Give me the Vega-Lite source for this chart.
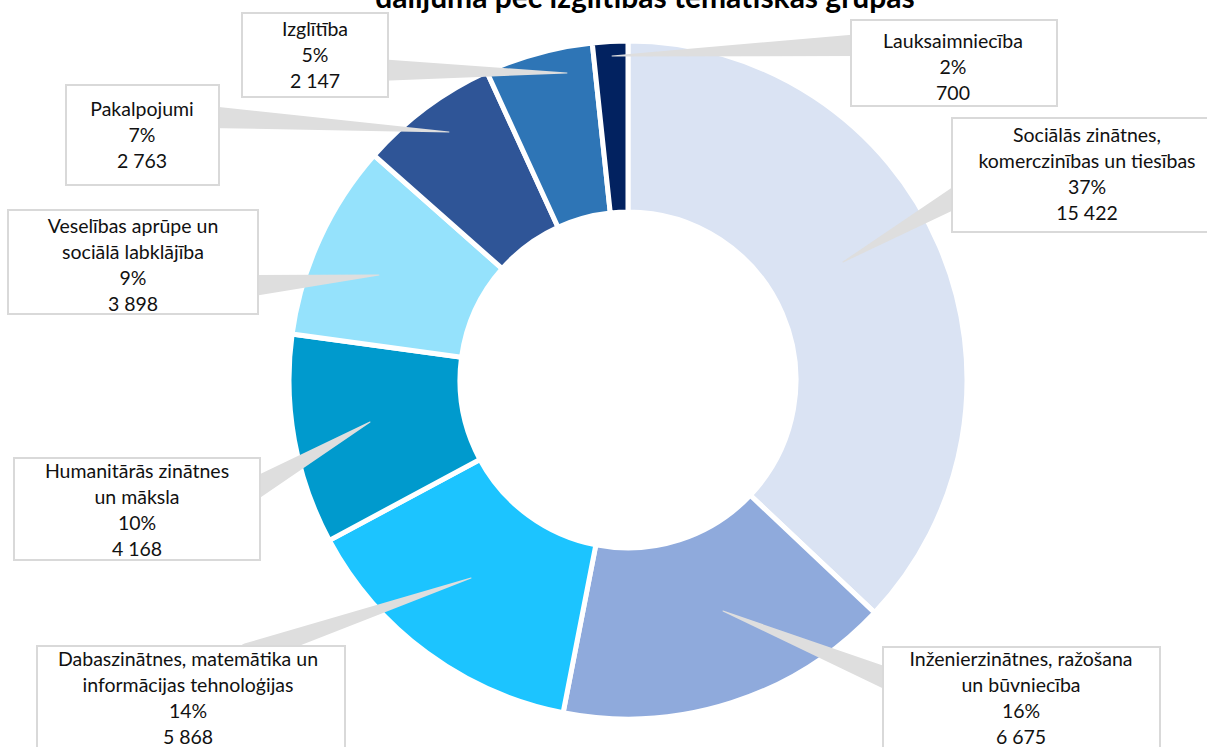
{
  "$schema": "https://vega.github.io/schema/vega-lite/v6.json",
  "width": 1207,
  "height": 747,
  "autosize": {"type": "none"},
  "padding": 0,
  "background": "white",
  "config": {"view": {"stroke": null}, "text": {"lineBreak": "\n"}},
  "datasets": {
    "slices": [
      {"name": "Sociālās zinātnes, komerczinības un tiesības", "order": 1, "value": 15422, "text": "Sociālās zinātnes,\nkomerczinības un tiesības\n37%\n15 422", "bx1": 324, "bx2": 590, "by1": -262, "by2": -148, "cx": 459, "cy": -244},
      {"name": "Inženierzinātnes, ražošana un būvniecība", "order": 2, "value": 6675, "text": "Inženierzinātnes, ražošana\nun būvniecība\n16%\n6 675", "bx1": 255, "bx2": 532, "by1": 267, "by2": 380, "cx": 393, "cy": 280},
      {"name": "Dabaszinātnes, matemātika un informācijas tehnoloģijas", "order": 3, "value": 5868, "text": "Dabaszinātnes, matemātika un\ninformācijas tehnoloģijas\n14%\n5 868", "bx1": -591, "bx2": -283, "by1": 266, "by2": 380, "cx": -440, "cy": 280},
      {"name": "Humanitārās zinātnes un māksla", "order": 4, "value": 4168, "text": "Humanitārās zinātnes\nun māksla\n10%\n4 168", "bx1": -614, "bx2": -368, "by1": 78, "by2": 180, "cx": -491, "cy": 92},
      {"name": "Veselības aprūpe un sociālā labklājība", "order": 5, "value": 3898, "text": "Veselības aprūpe un\nsociālā labklājība\n9%\n3 898", "bx1": -620, "bx2": -370, "by1": -170, "by2": -66, "cx": -495, "cy": -153},
      {"name": "Pakalpojumi", "order": 6, "value": 2763, "text": "Pakalpojumi\n7%\n2 763", "bx1": -562, "bx2": -409, "by1": -295, "by2": -195, "cx": -486, "cy": -270},
      {"name": "Izglītība", "order": 7, "value": 2147, "text": "Izglītība\n5%\n2 147", "bx1": -386, "bx2": -240, "by1": -367, "by2": -283, "cx": -313, "cy": -350},
      {"name": "Lauksaimniecība", "order": 8, "value": 700, "text": "Lauksaimniecība\n2%\n700", "bx1": 223, "bx2": 429, "by1": -360, "by2": -274, "cx": 325, "cy": -338}
    ],
    "callouts": [
      {"name": "Sociālās", "end": 0, "x": 215, "y": -118},
      {"name": "Sociālās", "end": 1, "x": 334, "y": -186},
      {"name": "Inženier", "end": 0, "x": 95, "y": 231},
      {"name": "Inženier", "end": 1, "x": 263, "y": 300},
      {"name": "Dabasz", "end": 0, "x": -157, "y": 198},
      {"name": "Dabasz", "end": 1, "x": -380, "y": 274},
      {"name": "Humanit", "end": 0, "x": -258, "y": 42},
      {"name": "Humanit", "end": 1, "x": -376, "y": 110},
      {"name": "Veselib", "end": 0, "x": -249, "y": -105},
      {"name": "Veselib", "end": 1, "x": -380, "y": -94},
      {"name": "Pakalp", "end": 0, "x": -179, "y": -248},
      {"name": "Pakalp", "end": 1, "x": -419, "y": -263},
      {"name": "Izglit", "end": 0, "x": -61, "y": -307},
      {"name": "Izglit", "end": 1, "x": -250, "y": -310},
      {"name": "Lauks", "end": 0, "x": -16, "y": -324},
      {"name": "Lauks", "end": 1, "x": 233, "y": -335}
    ],
    "title": [{"t": "dalījuma pēc izglītības tematiskās grupās", "x": 17, "y": -372}]
  },
  "layer": [
    {
      "data": {"name": "slices"},
      "mark": {"type": "arc", "outerRadius": 339, "innerRadius": 168, "stroke": "white", "strokeWidth": 5},
      "encoding": {
        "x": {"datum": 0, "type": "quantitative", "scale": {"domain": [-628, 579], "nice": false, "zero": false}, "axis": null},
        "y": {"datum": 0, "type": "quantitative", "scale": {"domain": [-380, 367], "reverse": true, "nice": false, "zero": false}, "axis": null},
        "theta": {"field": "value", "type": "quantitative", "stack": true},
        "order": {"field": "order", "type": "quantitative"},
        "color": {"field": "name", "type": "nominal", "legend": null, "sort": null,
          "scale": {
            "domain": ["Sociālās zinātnes, komerczinības un tiesības", "Inženierzinātnes, ražošana un būvniecība", "Dabaszinātnes, matemātika un informācijas tehnoloģijas", "Humanitārās zinātnes un māksla", "Veselības aprūpe un sociālā labklājība", "Pakalpojumi", "Izglītība", "Lauksaimniecība"],
            "range": ["#DAE3F3", "#8FAADC", "#1CC4FF", "#009ACD", "#95E2FC", "#2F5597", "#2E75B6", "#022260"]
          }}
      }
    },
    {
      "data": {"name": "callouts"},
      "mark": {"type": "trail", "color": "#DEDEDE"},
      "encoding": {
        "x": {"field": "x", "type": "quantitative", "axis": null},
        "y": {"field": "y", "type": "quantitative", "axis": null},
        "detail": {"field": "name", "type": "nominal"},
        "order": {"field": "end", "type": "quantitative"},
        "size": {"field": "end", "type": "quantitative", "legend": null, "scale": {"domain": [0, 1], "range": [1, 22]}}
      }
    },
    {
      "data": {"name": "slices"},
      "mark": {"type": "rect", "fill": "white", "stroke": "#D9D9D9", "strokeWidth": 2},
      "encoding": {
        "x": {"field": "bx1", "type": "quantitative", "axis": null},
        "x2": {"field": "bx2"},
        "y": {"field": "by1", "type": "quantitative", "axis": null},
        "y2": {"field": "by2"}
      }
    },
    {
      "data": {"name": "slices"},
      "mark": {"type": "text", "font": "Lato", "fontSize": 19.5, "lineHeight": 26, "align": "center", "baseline": "middle", "color": "#111111"},
      "encoding": {
        "x": {"field": "cx", "type": "quantitative", "axis": null},
        "y": {"field": "cy", "type": "quantitative", "axis": null},
        "text": {"field": "text", "type": "nominal"}
      }
    },
    {
      "data": {"name": "title"},
      "mark": {"type": "text", "font": "Lato", "fontSize": 30, "fontWeight": "bold", "align": "center", "baseline": "alphabetic", "color": "#000000"},
      "encoding": {
        "x": {"field": "x", "type": "quantitative", "axis": null},
        "y": {"field": "y", "type": "quantitative", "axis": null},
        "text": {"field": "t", "type": "nominal"}
      }
    }
  ]
}
